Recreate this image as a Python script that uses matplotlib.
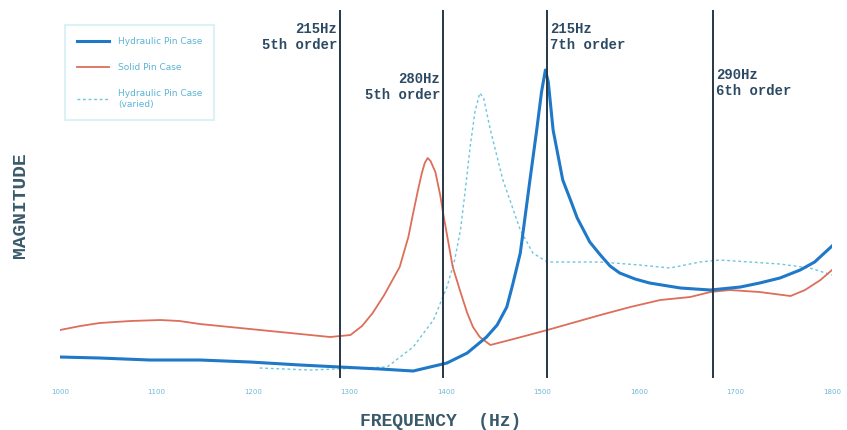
import matplotlib
matplotlib.use('Agg')
import matplotlib.pyplot as plt

# Hydraulic pin case (solid blue)
hyd_freq = [1000, 1041, 1093, 1145, 1197, 1249, 1290, 1332, 1366, 1401, 1422, 1442,
            1453, 1463, 1469, 1477, 1487, 1494, 1499, 1503, 1506, 1511, 1521, 1529,
            1536, 1549, 1560, 1570, 1580, 1596, 1611, 1643, 1674, 1705, 1725, 1746,
            1767, 1782, 1800]
hyd_mag = [2.1, 2.0, 1.8, 1.8, 1.6, 1.3, 1.1, 0.9, 0.7, 1.5, 2.5, 4.1,
           5.3, 7.1, 9.3, 12.5, 19.8, 24.8, 28.6, 30.8, 29.6, 24.8, 19.8, 17.8,
           16.0, 13.6, 12.3, 11.2, 10.5, 9.9, 9.5, 9.0, 8.8, 9.1, 9.5, 10.0,
           10.8, 11.6, 13.2]

# Solid pin case (red)
solid_freq = [1000, 1021, 1041, 1073, 1104, 1124, 1145, 1197, 1249, 1280, 1301, 1313,
              1324, 1336, 1352, 1361, 1366, 1371, 1375, 1378, 1381, 1384, 1389, 1394,
              1397, 1402, 1407, 1415, 1422, 1428, 1435, 1446, 1474, 1505, 1560, 1591,
              1622, 1653, 1674, 1694, 1725, 1757, 1772, 1788, 1800]
solid_mag = [4.8, 5.2, 5.5, 5.7, 5.8, 5.7, 5.4, 4.9, 4.4, 4.1, 4.3, 5.2,
             6.5, 8.3, 11.1, 14.1, 16.5, 18.8, 20.5, 21.5, 22.0, 21.7, 20.6, 18.3,
             16.5, 13.8, 11.1, 8.6, 6.5, 5.1, 4.1, 3.3, 4.0, 4.8, 6.3, 7.1,
             7.8, 8.1, 8.6, 8.8, 8.6, 8.2, 8.8, 9.8, 10.8]

# Hydraulic pin case, variant (dotted cyan)
var_freq = [1207, 1259, 1339, 1366, 1387, 1401, 1409, 1415, 1420, 1425, 1430, 1435,
            1439, 1446, 1459, 1477, 1490, 1505, 1560, 1601, 1632, 1663, 1684, 1715,
            1746, 1777, 1800]
var_mag = [1.0, 0.8, 1.1, 3.1, 5.8, 9.1, 11.8, 14.8, 18.8, 23.1, 26.6, 28.5,
           28.0, 24.8, 19.8, 14.8, 12.5, 11.6, 11.6, 11.3, 11.0, 11.6, 11.8, 11.6,
           11.4, 11.0, 10.3]

# order lines
order_freq = [1290, 1397, 1505, 1677]
order_text = ['215Hz\n5th order', '280Hz\n5th order', '215Hz\n7th order', '290Hz\n6th order']
order_y = [35.6, 30.6, 35.6, 31.0]
order_side = ['left', 'left', 'right', 'right']

tick_vals = [1000, 1100, 1200, 1300, 1400, 1500, 1600, 1700, 1800]

def main():
    fig = plt.figure(figsize=(8.47, 4.30), dpi=100)
    ax = fig.add_axes([0.0708, 0.1209, 0.9115, 0.8558])

    ax.plot(hyd_freq, hyd_mag, color='#1f78c8', lw=2.2, label='Hydraulic Pin Case', zorder=4)
    ax.plot(solid_freq, solid_mag, color='#dc6e5a', lw=1.3, label='Solid Pin Case', zorder=3)
    ax.plot(var_freq, var_mag, color='#6cc6dc', lw=1.0, dashes=(2, 2),
            label='Hydraulic Pin Case\n(varied)', zorder=2)

    for f, txt, y, side in zip(order_freq, order_text, order_y, order_side):
        ax.axvline(f, color='#263845', lw=1.4, zorder=5)
        if side == 'left':
            ax.text(f - 3, y, txt, ha='right', va='top', multialignment='right',
                    family='Liberation Mono', fontweight='bold', fontsize=10,
                    color='#2c4a63', linespacing=1.15)
        else:
            ax.text(f + 3, y, txt, ha='left', va='top', multialignment='left',
                    family='Liberation Mono', fontweight='bold', fontsize=10,
                    color='#2c4a63', linespacing=1.15)

    ax.set_xlim(1000, 1800)
    ax.set_ylim(0, 36.8)
    ax.set_xticks(tick_vals)
    ax.set_xticklabels([str(t) for t in tick_vals], fontsize=5, color='#6cb8d8')
    ax.tick_params(axis='x', length=0, pad=8)
    ax.set_yticks([])
    for s in ax.spines.values():
        s.set_visible(False)

    leg = ax.legend(loc='upper left', bbox_to_anchor=(0.0065, 0.959), fontsize=6.5,
                    labelcolor='#5ab4d8', frameon=True, fancybox=False,
                    edgecolor='#d4eef4', labelspacing=1.9, handlelength=3.6,
                    handletextpad=1.0, borderpad=1.3, borderaxespad=0)
    leg.get_frame().set_linewidth(1.5)

    fig.text(441 / 847, 1 - 422 / 430, 'FREQUENCY  (Hz)', ha='center', va='center',
             family='Liberation Mono', fontweight='bold', fontsize=13, color='#3a5a6a')
    fig.text(20 / 847, 1 - 205 / 430, 'MAGNITUDE', ha='center', va='center', rotation=90,
             family='Liberation Mono', fontweight='bold', fontsize=14, color='#3a5a6a')

    fig.savefig('out.png', dpi=100)

if __name__ == "__main__":
    main()
